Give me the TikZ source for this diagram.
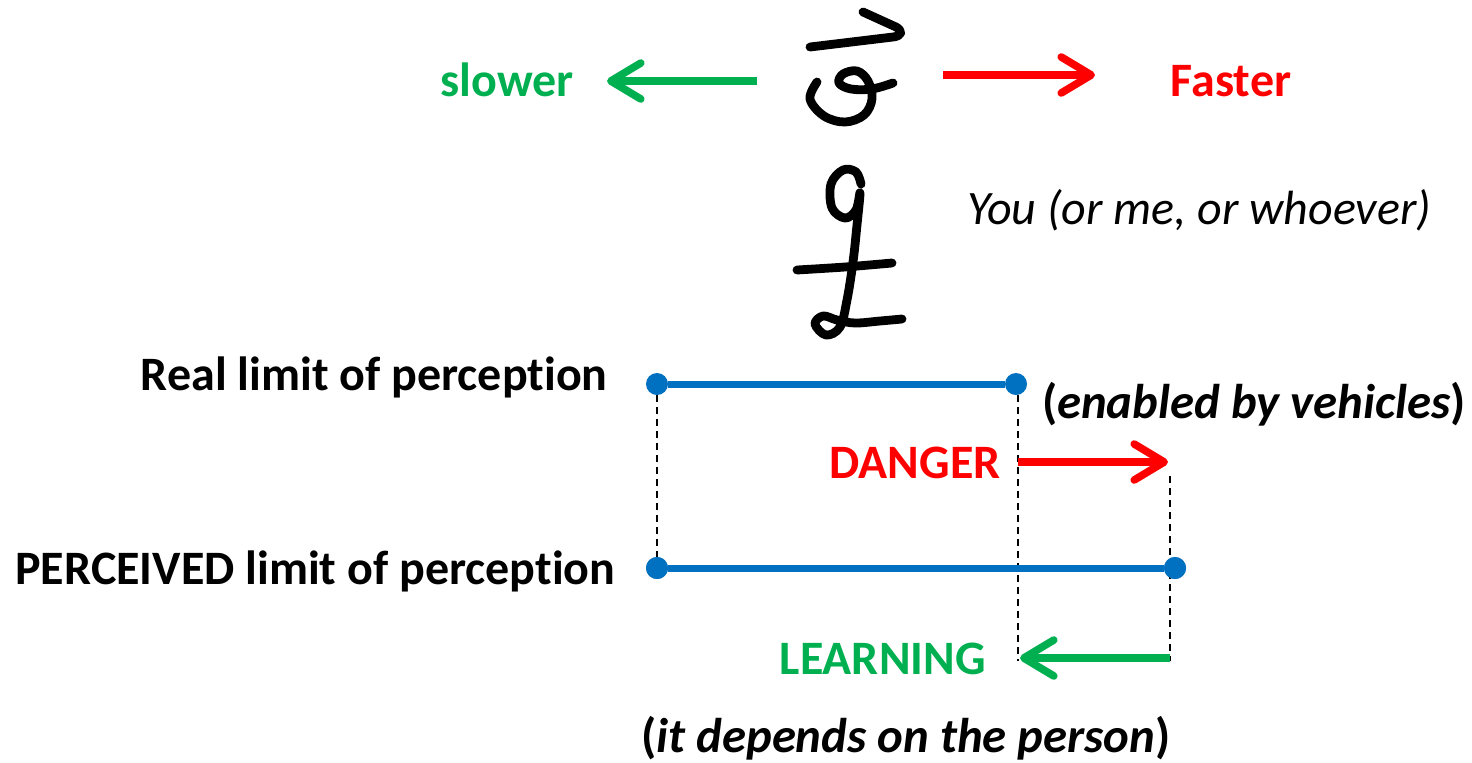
\documentclass[tikz,border=0pt]{standalone}
\usepackage{fontspec}
\setmainfont[Ligatures=NoCommon]{Carlito}
\usetikzlibrary{arrows.meta}
\definecolor{mygreen}{HTML}{00B050}
\definecolor{myred}{HTML}{FF0000}
\definecolor{myblue}{HTML}{0070C0}
\begin{document}
\begin{tikzpicture}[x=0.5pt,y=-0.5pt,
  lbl/.style={inner sep=0pt, font=\fontsize{24}{28}\selectfont\bfseries},
  lblit/.style={inner sep=0pt, font=\fontsize{24.4}{28}\selectfont\bfseries},
  arr/.style={line width=3.8pt, -{Straight Barb[length=15pt,width=18pt,line cap=round,line join=round]}},
  hand/.style={line width=4.4pt, line cap=round, line join=round, black},
  dot/.style={circle, fill=myblue, inner sep=0pt, minimum size=11pt},
  limline/.style={myblue, line width=3.5pt},
  guide/.style={black, line width=0.8pt, dash pattern=on 3.5pt off 2.5pt}
]
\useasboundingbox (0,0) rectangle (1472,762);

% hand-drawn figure
\draw[hand] (810,47) -- (893,37) .. controls (902,36) and (903,31) .. (896,27) -- (863,12);
\draw[hand] plot[smooth, tension=0.6] coordinates {(817,82) (810,99) (824,116) (845,122) (864,115) (872,99) (868,81) (857,71) (843,74) (839,83) (851,89) (872,89) (893,83)};
\draw[hand] plot[smooth, tension=0.6] coordinates {(861,184) (856,172) (843,170) (831,184) (832,208) (845,218) (856,210) (860,193) (857,225) (853,262) (847,300) (840,327) (826,335) (815,324) (823,316) (837,320) (855,323) (880,321) (902,319)};
\draw[hand] plot[smooth, tension=0.5] coordinates {(797,270) (845,267) (892,263)};

% top arrows
\node[lbl, text=mygreen, anchor=base] (slower) at (507,96) {slower};
\node[lbl, text=myred, anchor=base] (faster) at (1231,96) {Faster};
\coordinate (gs) at (757,81);
\coordinate (ge) at (607,81);
\coordinate (rs) at (943,75);
\coordinate (re) at (1095,75);
\draw[arr, mygreen] (gs) -- (ge);
\draw[arr, myred] (rs) -- (re);

\node[inner sep=0pt, font=\fontsize{24}{28}\selectfont\itshape, anchor=base] (you) at (1199,224) {You (or me, or whoever)};

% limits
\node[lbl, anchor=base east] (real) at (608,390) {Real limit of perception};
\node[lbl, anchor=base west] (perc) at (15,584) {PERCEIVED limit of perception};

\node[dot] (r1) at (657,384) {};
\node[dot] (r2) at (1016,384) {};
\node[dot] (p1) at (657,568) {};
\node[dot] (p2) at (1175,568) {};

\coordinate (d1) at (1018,395);
\coordinate (dangS) at (1018,462);
\coordinate (dangE) at (1168,462);
\coordinate (d2) at (1170,476);
\coordinate (d3) at (1170,661);
\coordinate (d4) at (1018,661);
\coordinate (lrnS) at (1170,658);
\coordinate (lrnE) at (1020,658);

\draw[guide] (r1) -- (p1);
\draw[guide] (d1) -- (d4);
\draw[guide] (d2) -- (d3);

\draw[limline] (r1) -- (r2);
\draw[limline] (p1) -- (p2);
\node[dot] at (p2) {};
\node[dot] at (p1) {};

\node[lblit, anchor=base] (enabled) at (1254,418) {(\textit{enabled by vehicles})};

\node[lbl, text=myred, anchor=base east] (danger) at (1001,478) {DANGER};
\draw[arr, myred] (dangS) -- (dangE);

\node[lbl, text=mygreen, anchor=base east] (learning) at (986,674) {LEARNING};
\draw[arr, mygreen] (lrnS) -- (lrnE);

\node[lblit, anchor=base] (depends) at (906,752) {(\textit{it depends on the person})};
\end{tikzpicture}
\end{document}
